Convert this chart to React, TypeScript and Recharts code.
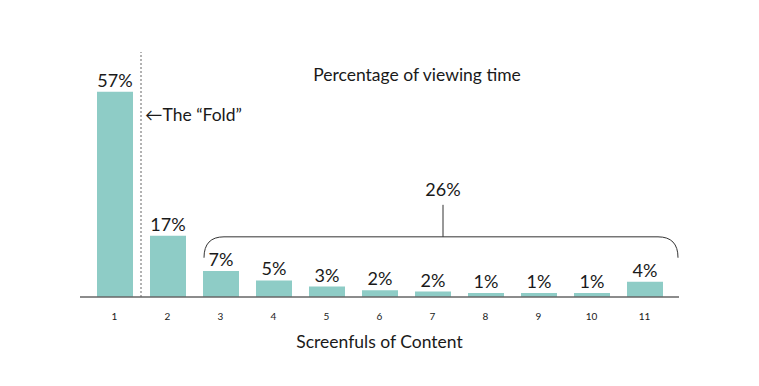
import React from 'react';
import { BarChart, Bar, XAxis, YAxis, LabelList, ReferenceLine, ReferenceArea } from 'recharts';

const screens = ['1', '2', '3', '4', '5', '6', '7', '8', '9', '10', '11'];
const viewShare = [57, 17, 7.2, 4.6, 2.9, 1.9, 1.5, 1.1, 1.1, 1.1, 4.2];
const shareLabels = ['57%', '17%', '7%', '5%', '3%', '2%', '2%', '1%', '1%', '1%', '4%'];
const braceTotal = '26%';
const title = 'Percentage of viewing time';
const xTitle = 'Screenfuls of Content';
const foldText = '\u2190The \u201cFold\u201d';

const data = screens.map((s, i) => ({ screen: s, share: viewShare[i], label: shareLabels[i] }));

const FONT = 'Lato, "Open Sans", sans-serif';
const TEXT = '#1a1a1a';

const Brace = (props: any) => {
  const { x, y, width, height } = props;
  const x0 = x + 10;
  const x1 = x + width + 7;
  const top = y;
  const bot = y + height;
  const r = 20;
  const mid = (x0 + x1) / 2 + 2;
  const d = `M ${x0} ${bot} Q ${x0} ${top} ${x0 + r} ${top} L ${x1 - r} ${top} Q ${x1} ${top} ${x1} ${bot}`;
  return (
    <g>
      <path d={d} fill="none" stroke="#333" strokeWidth={1} />
      <line x1={mid} y1={top} x2={mid} y2={top - 32} stroke="#333" strokeWidth={1} />
      <text x={mid} y={top - 41} textAnchor="middle" fontFamily={FONT} fontSize={18} fill={TEXT}>{braceTotal}</text>
    </g>
  );
};

const FoldLabel = (props: any) => {
  const { viewBox } = props;
  return (
    <text x={viewBox.x + 4} y={viewBox.y + 69} fontFamily={FONT} fontSize={17.5} fill={TEXT}>{foldText}</text>
  );
};

export default function App() {
  return (
    <div style={{ position: 'absolute', left: 0, top: 0, width: 759, height: 386, background: '#fff' }}>
      <div style={{ position: 'absolute', left: 0, width: 834, top: 64, textAlign: 'center', fontFamily: FONT, fontSize: 17.5, color: TEXT }}>{title}</div>
      <div style={{ position: 'absolute', left: 0, width: 759, top: 331, textAlign: 'center', fontFamily: FONT, fontSize: 17.5, color: TEXT }}>{xTitle}</div>
      <BarChart width={759} height={386} data={data} margin={{ top: 52, right: 80, bottom: 59, left: 80 }} barCategoryGap={0}>
        <YAxis hide domain={[0, 68]} />
        <XAxis
          dataKey="screen"
          padding={{ left: 8, right: 8 }}
          axisLine={{ stroke: '#666', strokeWidth: 1.5 }}
          tickLine={false}
          tick={{ fontFamily: FONT, fontSize: 10, fill: TEXT }}
          tickMargin={10}
        />
        <ReferenceLine x="1" position="end" stroke="#666" strokeDasharray="2 2" strokeWidth={1} label={<FoldLabel />} />
        <ReferenceArea x1="3" x2="11" y1={10.9} y2={16.7} fill="none" stroke="none" ifOverflow="visible" shape={<Brace />} />
        <Bar dataKey="share" fill="#8ECCC6" barSize={36} isAnimationActive={false}>
          <LabelList dataKey="label" position="top" offset={5} style={{ fontFamily: FONT, fontSize: 18, fill: TEXT }} />
        </Bar>
      </BarChart>
    </div>
  );
}
